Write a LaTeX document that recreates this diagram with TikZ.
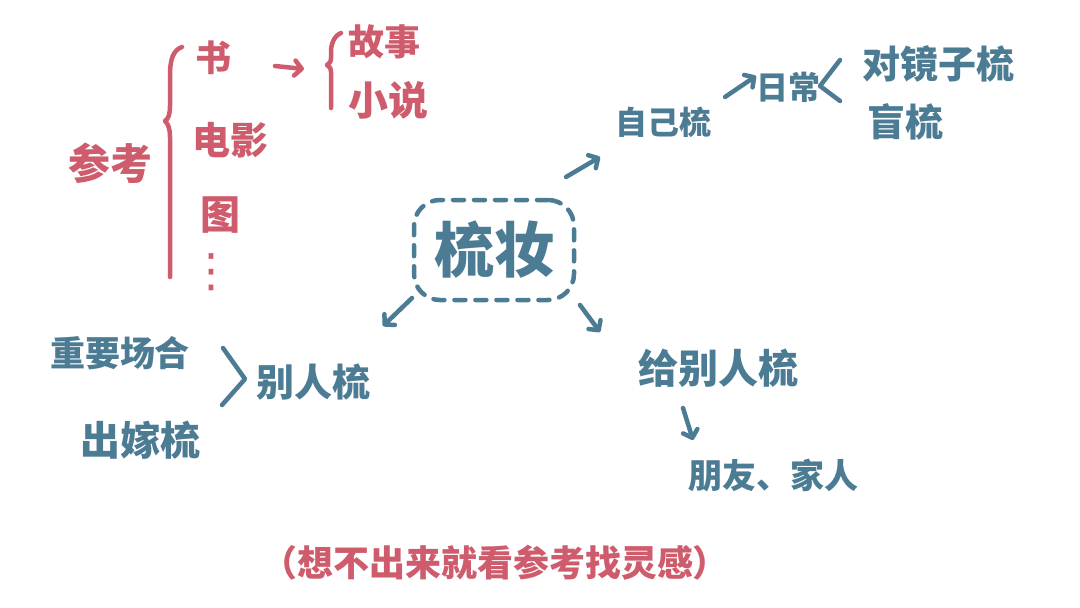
\documentclass[tikz,border=0pt]{standalone}
\usepackage{fontspec}
\usepackage{xcolor}
\usepackage{tikz}
\usetikzlibrary{arrows.meta,positioning,calc}
\newfontfamily\cjk{Noto Sans CJK SC}
\newfontfamily\sym{DejaVu Sans}
\definecolor{rose}{HTML}{CF5C6C}
\definecolor{steel}{HTML}{4C7C94}

\tikzset{
  word/.style={inner sep=0pt, font=\cjk\bfseries\fontsize{#1}{#1}\selectfont},
  word/.default=36,
  pen/.style={line width=4.5pt, line cap=round, line join=round},
  arr/.style={pen, -{Straight Barb[round,length=7pt,width=15pt]}},
}

\begin{document}
\begin{tikzpicture}[x=1pt,y=-1pt]
  \useasboundingbox[fill=white] (0,0) rectangle (1080,608);

  % centre
  \node[word=60, steel, draw, pen, dash pattern=on 11pt off 10pt,
        rounded corners=26pt, minimum width=160pt, minimum height=100pt] (zz) at (494,250) {梳妆};

  % own hair
  \node[word=32, steel] (zj) at (663,122) {自己梳};
  \node[word=32, steel] (rc) at (788,87) {日常};
  \node[word=38, steel] (djz) at (938,64) {对镜子梳};
  \node[word=38, steel] (mz) at (905,122) {盲梳};

  % others
  \node[word=38, steel] (br) at (313,382) {别人梳};
  \node[word=35, steel] (zy) at (120,353) {重要场合};
  \node[word=40, steel] (cj) at (140,440) {出嫁梳};
  \node[word=40, steel] (gb) at (718,368) {给别人梳};
  \node[word=34, steel] (py) at (773,475) {朋友、家人};

  % references
  \node[word=42, rose] (ck) at (110,163) {参考};
  \node[word=36, rose] (shu) at (213,58) {书};
  \node[word=38, rose] (dy) at (230,140) {电影};
  \node[word=40, rose] (tu) at (220,215) {图};
  \node[rose, inner sep=0pt, font=\sym\fontsize{46}{46}\selectfont] (dots) at (211,272) {⋮};
  \node[word=36, rose] (gs) at (384,42) {故事};
  \node[word=40, rose] (xs) at (388,100) {小说};
  \node[word=36, rose] (tip) at (495,563) {（想不出来就看参考找灵感）};

  % arrows
  \coordinate (a1) at (566,177); \coordinate (b1) at (600,157);
  \coordinate (a2) at (412,298); \coordinate (b2) at (383,326);
  \coordinate (a3) at (580,305); \coordinate (b3) at (600,332);
  \coordinate (a4) at (725,97);  \coordinate (b4) at (756,76);
  \coordinate (a5) at (683,408); \coordinate (b5) at (693,440);
  \coordinate (a6) at (275,66);  \coordinate (b6) at (304,69);
  \draw[arr, steel] (a1) -- (b1);
  \draw[arr, steel] (a2) -- (b2);
  \draw[arr, steel] (a3) -- (b3);
  \draw[arr, steel] (a4) -- (b4);
  \draw[arr, steel] (a5) -- (b5);
  \draw[arr, rose] (a6) -- (b6);

  % brackets
  \draw[pen, steel] (840,60) -- (820,86) -- (840,101);
  \draw[pen, steel] (223,348) -- (245,379) -- (222,405);
  \draw[pen, rose] (182,47) .. controls (173,50) and (170,60) .. (170,75) -- (170,106)
    .. controls (170,115) and (168,119) .. (165,121) .. controls (168,124) and (170,128) .. (170,137) -- (170,277);
  \draw[pen, rose] (341,33) .. controls (334,36) and (331,44) .. (331,52) -- (331,58)
    .. controls (331,62) and (329,64) .. (327,65) .. controls (329,66) and (331,68) .. (331,72) -- (331,108);
\end{tikzpicture}
\end{document}
